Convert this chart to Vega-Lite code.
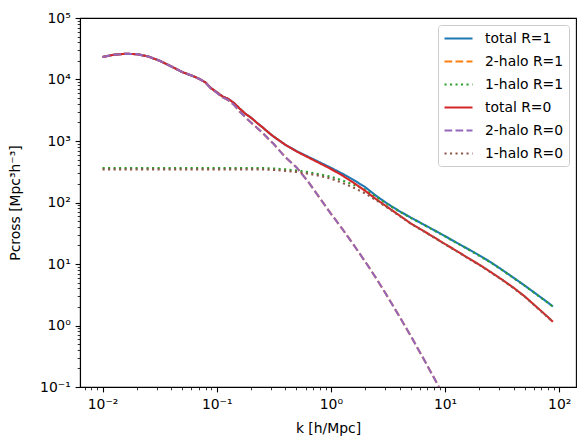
{
  "$schema": "https://vega.github.io/schema/vega-lite/v6.json",
  "width": 496,
  "height": 369,
  "autosize": "none",
  "padding": {"left": 80, "top": 18, "right": 10, "bottom": 58},
  "background": "white",
  "config": {
    "view": {"stroke": "black", "strokeWidth": 1.1},
    "font": "DejaVu Sans"
  },
  "data": {
    "values": [
      {"k": 0.01, "total R=1": 23230, "2-halo R=1": 23230, "1-halo R=1": 364, "total R=0": 23230, "2-halo R=0": 23230, "1-halo R=0": 345},
      {"k": 0.01259, "total R=1": 25230, "2-halo R=1": 25230, "1-halo R=1": 364, "total R=0": 25230, "2-halo R=0": 25230, "1-halo R=0": 345},
      {"k": 0.01585, "total R=1": 26180, "2-halo R=1": 26180, "1-halo R=1": 364, "total R=0": 26180, "2-halo R=0": 26180, "1-halo R=0": 345},
      {"k": 0.01995, "total R=1": 25820, "2-halo R=1": 25820, "1-halo R=1": 364, "total R=0": 25820, "2-halo R=0": 25820, "1-halo R=0": 345},
      {"k": 0.02512, "total R=1": 23710, "2-halo R=1": 23710, "1-halo R=1": 364, "total R=0": 23710, "2-halo R=0": 23710, "1-halo R=0": 345},
      {"k": 0.03162, "total R=1": 20180, "2-halo R=1": 20180, "1-halo R=1": 364, "total R=0": 20180, "2-halo R=0": 20180, "1-halo R=0": 345},
      {"k": 0.03981, "total R=1": 16410, "2-halo R=1": 16410, "1-halo R=1": 364, "total R=0": 16410, "2-halo R=0": 16410, "1-halo R=0": 345},
      {"k": 0.05012, "total R=1": 13180, "2-halo R=1": 13180, "1-halo R=1": 364, "total R=0": 13180, "2-halo R=0": 13180, "1-halo R=0": 345},
      {"k": 0.05623, "total R=1": 12160, "2-halo R=1": 12160, "1-halo R=1": 364, "total R=0": 12160, "2-halo R=0": 12160, "1-halo R=0": 345},
      {"k": 0.0631, "total R=1": 11220, "2-halo R=1": 11220, "1-halo R=1": 364, "total R=0": 11220, "2-halo R=0": 11220, "1-halo R=0": 345},
      {"k": 0.07079, "total R=1": 10190, "2-halo R=1": 10190, "1-halo R=1": 364, "total R=0": 10190, "2-halo R=0": 10190, "1-halo R=0": 345},
      {"k": 0.07943, "total R=1": 9016, "2-halo R=1": 9016, "1-halo R=1": 364, "total R=0": 9016, "2-halo R=0": 9016, "1-halo R=0": 345},
      {"k": 0.08913, "total R=1": 7244, "2-halo R=1": 7079, "1-halo R=1": 364, "total R=0": 7244, "2-halo R=0": 7079, "1-halo R=0": 345},
      {"k": 0.1, "total R=1": 6237, "2-halo R=1": 6095, "1-halo R=1": 364, "total R=0": 6237, "2-halo R=0": 6095, "1-halo R=0": 345},
      {"k": 0.1122, "total R=1": 5309, "2-halo R=1": 5129, "1-halo R=1": 364, "total R=0": 5309, "2-halo R=0": 5129, "1-halo R=0": 345},
      {"k": 0.1259, "total R=1": 4842, "2-halo R=1": 4624, "1-halo R=1": 364, "total R=0": 4842, "2-halo R=0": 4624, "1-halo R=0": 345},
      {"k": 0.1413, "total R=1": 4169, "2-halo R=1": 3890, "1-halo R=1": 364, "total R=0": 4169, "2-halo R=0": 3890, "1-halo R=0": 345},
      {"k": 0.1585, "total R=1": 3388, "2-halo R=1": 3020, "1-halo R=1": 364, "total R=0": 3388, "2-halo R=0": 3020, "1-halo R=0": 345},
      {"k": 0.1778, "total R=1": 2786, "2-halo R=1": 2455, "1-halo R=1": 364, "total R=0": 2786, "2-halo R=0": 2455, "1-halo R=0": 345},
      {"k": 0.1995, "total R=1": 2399, "2-halo R=1": 1995, "1-halo R=1": 364, "total R=0": 2399, "2-halo R=0": 1995, "1-halo R=0": 345},
      {"k": 0.2239, "total R=1": 1995, "2-halo R=1": 1660, "1-halo R=1": 364, "total R=0": 1995, "2-halo R=0": 1660, "1-halo R=0": 345},
      {"k": 0.2512, "total R=1": 1679, "2-halo R=1": 1365, "1-halo R=1": 364, "total R=0": 1679, "2-halo R=0": 1365, "1-halo R=0": 345},
      {"k": 0.2818, "total R=1": 1396, "2-halo R=1": 1096, "1-halo R=1": 361, "total R=0": 1396, "2-halo R=0": 1096, "1-halo R=0": 342},
      {"k": 0.3162, "total R=1": 1175, "2-halo R=1": 891, "1-halo R=1": 357, "total R=0": 1175, "2-halo R=0": 891, "1-halo R=0": 339},
      {"k": 0.3981, "total R=1": 871, "2-halo R=1": 550, "1-halo R=1": 347, "total R=0": 871, "2-halo R=0": 550, "1-halo R=0": 327},
      {"k": 0.5012, "total R=1": 684, "2-halo R=1": 372, "1-halo R=1": 331, "total R=0": 676, "2-halo R=0": 372, "1-halo R=0": 313},
      {"k": 0.631, "total R=1": 556, "2-halo R=1": 219, "1-halo R=1": 313, "total R=0": 543, "2-halo R=0": 219, "1-halo R=0": 295},
      {"k": 0.7943, "total R=1": 452, "2-halo R=1": 120, "1-halo R=1": 288, "total R=0": 437, "2-halo R=0": 120, "1-halo R=0": 272},
      {"k": 1, "total R=1": 367, "2-halo R=1": 66.1, "1-halo R=1": 263, "total R=0": 351, "2-halo R=0": 66.1, "1-halo R=0": 245},
      {"k": 1.259, "total R=1": 295, "2-halo R=1": 37.2, "1-halo R=1": 229, "total R=0": 275, "2-halo R=0": 37.2, "1-halo R=0": 209},
      {"k": 1.585, "total R=1": 232, "2-halo R=1": 20.4, "1-halo R=1": 195, "total R=0": 209, "2-halo R=0": 20.4, "1-halo R=0": 174},
      {"k": 1.995, "total R=1": 178, "2-halo R=1": 11.0, "1-halo R=1": 162, "total R=0": 155, "2-halo R=0": 11.0, "1-halo R=0": 141},
      {"k": 2.512, "total R=1": 127, "2-halo R=1": 5.75, "1-halo R=1": 123, "total R=0": 112, "2-halo R=0": 5.75, "1-halo R=0": 108},
      {"k": 3.162, "total R=1": 94.4, "2-halo R=1": 2.88, "1-halo R=1": 92.3, "total R=0": 83.2, "2-halo R=0": 2.88, "1-halo R=0": 81.3},
      {"k": 3.981, "total R=1": 72.4, "2-halo R=1": 1.41, "1-halo R=1": 71.6, "total R=0": 61.7, "2-halo R=0": 1.41, "1-halo R=0": 61.0},
      {"k": 5.012, "total R=1": 56.9, "2-halo R=1": 0.676, "1-halo R=1": 56.2, "total R=0": 45.7, "2-halo R=0": 0.676, "1-halo R=0": 45.2},
      {"k": 6.31, "total R=1": 45.2, "2-halo R=1": 0.316, "1-halo R=1": 44.7, "total R=0": 35.5, "2-halo R=0": 0.316, "1-halo R=0": 35.1},
      {"k": 7.943, "total R=1": 35.9, "2-halo R=1": 0.145, "1-halo R=1": 35.5, "total R=0": 27.5, "2-halo R=0": 0.145, "1-halo R=0": 27.2},
      {"k": 10, "total R=1": 28.4, "2-halo R=1": 0.0646, "1-halo R=1": 28.1, "total R=0": 21.1, "2-halo R=0": 0.0646, "1-halo R=0": 20.9},
      {"k": 12.59, "total R=1": 22.3, "2-halo R=1": 0.0282, "1-halo R=1": 22.0, "total R=0": 16.4, "2-halo R=0": 0.0282, "1-halo R=0": 16.2},
      {"k": 15.85, "total R=1": 17.6, "1-halo R=1": 17.4, "total R=0": 12.6, "1-halo R=0": 12.4},
      {"k": 19.95, "total R=1": 13.8, "1-halo R=1": 13.6, "total R=0": 9.77, "1-halo R=0": 9.66},
      {"k": 25.12, "total R=1": 10.7, "1-halo R=1": 10.6, "total R=0": 7.41, "1-halo R=0": 7.33},
      {"k": 31.62, "total R=1": 8.04, "1-halo R=1": 7.94, "total R=0": 5.56, "1-halo R=0": 5.50},
      {"k": 39.81, "total R=1": 5.98, "1-halo R=1": 5.92, "total R=0": 4.12, "1-halo R=0": 4.07},
      {"k": 50.12, "total R=1": 4.44, "1-halo R=1": 4.39, "total R=0": 2.95, "1-halo R=0": 2.92},
      {"k": 63.1, "total R=1": 3.24, "1-halo R=1": 3.20, "total R=0": 2.02, "1-halo R=0": 2.0},
      {"k": 79.43, "total R=1": 2.37, "1-halo R=1": 2.34, "total R=0": 1.38, "1-halo R=0": 1.36},
      {"k": 88.1, "total R=1": 2.04, "1-halo R=1": 2.02, "total R=0": 1.15, "1-halo R=0": 1.14}
    ]
  },
  "transform": [
    {"fold": ["total R=1", "2-halo R=1", "1-halo R=1", "total R=0", "2-halo R=0", "1-halo R=0"], "as": ["s", "P"]}
  ],
  "mark": {"type": "line", "strokeWidth": 2.1, "clip": true},
  "encoding": {
    "x": {
      "field": "k",
      "type": "quantitative",
      "scale": {"type": "log", "domain": [0.006346, 140.4], "nice": false},
      "axis": {
        "values": [0.007, 0.008, 0.009, 0.01, 0.02, 0.03, 0.04, 0.05, 0.06, 0.07, 0.08, 0.09, 0.1, 0.2, 0.3, 0.4, 0.5, 0.6, 0.7, 0.8, 0.9, 1, 2, 3, 4, 5, 6, 7, 8, 9, 10, 20, 30, 40, 50, 60, 70, 80, 90, 100],
        "labelExpr": "abs(log(datum.value)/LN10 - round(log(datum.value)/LN10)) < 0.001 ? '10' + ['⁻²','⁻¹','⁰','¹','²'][round(log(datum.value)/LN10)+2] : ''",
        "title": "k [h/Mpc]",
        "titleFont": "DejaVu Sans",
        "titleFontSize": 13.9,
        "titleFontWeight": "normal",
        "titleColor": "black",
        "titlePadding": 10,
        "labelFont": "DejaVu Sans",
        "labelFontSize": 13.9,
        "labelColor": "black",
        "labelPadding": 6,
        "labelOverlap": false,
        "labelFlush": false,
        "grid": false,
        "domainColor": "black",
        "domainWidth": 1.1,
        "tickColor": "black",
        "tickSize": {"condition": {"test": "abs(log(datum.value)/LN10 - round(log(datum.value)/LN10)) < 0.001", "value": 4.9}, "value": 2.8},
        "tickWidth": {"condition": {"test": "abs(log(datum.value)/LN10 - round(log(datum.value)/LN10)) < 0.001", "value": 1.1}, "value": 0.8}
      }
    },
    "y": {
      "field": "P",
      "type": "quantitative",
      "scale": {"type": "log", "domain": [0.1, 100000], "nice": false},
      "axis": {
        "values": [0.1, 0.2, 0.3, 0.4, 0.5, 0.6, 0.7, 0.8, 0.9, 1, 2, 3, 4, 5, 6, 7, 8, 9, 10, 20, 30, 40, 50, 60, 70, 80, 90, 100, 200, 300, 400, 500, 600, 700, 800, 900, 1000, 2000, 3000, 4000, 5000, 6000, 7000, 8000, 9000, 10000, 20000, 30000, 40000, 50000, 60000, 70000, 80000, 90000, 100000],
        "labelExpr": "abs(log(datum.value)/LN10 - round(log(datum.value)/LN10)) < 0.001 ? '10' + ['⁻¹','⁰','¹','²','³','⁴','⁵'][round(log(datum.value)/LN10)+1] : ''",
        "title": "Pcross [Mpc³h⁻³]",
        "titleFont": "DejaVu Sans",
        "titleFontSize": 13.9,
        "titleFontWeight": "normal",
        "titleColor": "black",
        "titlePadding": 17,
        "labelFont": "DejaVu Sans",
        "labelFontSize": 13.9,
        "labelColor": "black",
        "labelPadding": 4.9,
        "labelOverlap": false,
        "labelFlush": false,
        "grid": false,
        "domainColor": "black",
        "domainWidth": 1.1,
        "tickColor": "black",
        "tickSize": {"condition": {"test": "abs(log(datum.value)/LN10 - round(log(datum.value)/LN10)) < 0.001", "value": 4.9}, "value": 2.8},
        "tickWidth": {"condition": {"test": "abs(log(datum.value)/LN10 - round(log(datum.value)/LN10)) < 0.001", "value": 1.1}, "value": 0.8}
      }
    },
    "color": {
      "field": "s",
      "type": "nominal",
      "scale": {
        "domain": ["total R=1", "2-halo R=1", "1-halo R=1", "total R=0", "2-halo R=0", "1-halo R=0"],
        "range": ["#1f77b4", "#ff7f0e", "#2ca02c", "#d62728", "#9467bd", "#8c564b"]
      },
      "legend": {
        "title": null, "orient": "top-right", "offset": 7, "padding": 5,
        "fillColor": "rgba(255,255,255,0.8)", "strokeColor": "#cccccc", "cornerRadius": 3,
        "symbolType": "M-1,0L3,0", "symbolSize": 196, "symbolStrokeWidth": 2.1,
        "labelFont": "DejaVu Sans", "labelFontSize": 13.9, "labelColor": "black",
        "labelOffset": 25, "rowPadding": 7, "labelLimit": 300
      }
    },
    "strokeDash": {
      "field": "s",
      "type": "nominal",
      "scale": {
        "domain": ["total R=1", "2-halo R=1", "1-halo R=1", "total R=0", "2-halo R=0", "1-halo R=0"],
        "range": [[1, 0], [7.7, 3.3], [2.1, 3.4], [1, 0], [7.7, 3.3], [2.1, 3.4]]
      },
      "legend": {
        "title": null, "orient": "top-right", "offset": 7, "padding": 5,
        "fillColor": "rgba(255,255,255,0.8)", "strokeColor": "#cccccc", "cornerRadius": 3,
        "symbolType": "M-1,0L3,0", "symbolSize": 196, "symbolStrokeWidth": 2.1,
        "labelFont": "DejaVu Sans", "labelFontSize": 13.9, "labelColor": "black",
        "labelOffset": 25, "rowPadding": 7, "labelLimit": 300
      }
    }
  }
}
